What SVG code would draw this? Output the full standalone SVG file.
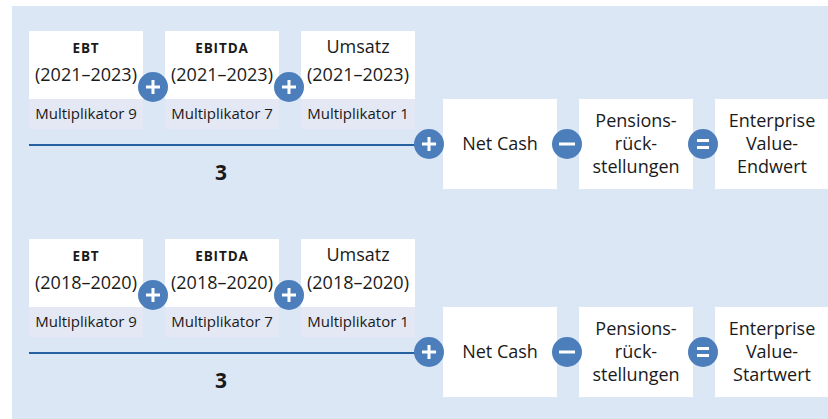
<svg xmlns="http://www.w3.org/2000/svg" width="828" height="419" viewBox="0 0 828 419">
<style>
.bg{fill:#dce7f5}
.box{fill:#ffffff}
.band{fill:#e4e8f4}
.t{font-family:"Open Sans","Noto Sans",sans-serif;fill:#1a1a1a;text-anchor:middle}
.big{font-size:18px}
.sc{font-size:13.5px;font-weight:700;letter-spacing:0.9px}
.mul{font-size:15px}
.num{font-size:21px;font-weight:700}
.op{fill:#4b7ebb}
.sym{stroke:#ffffff;stroke-width:3;stroke-linecap:butt;fill:none}
.link{stroke:#2560a0;stroke-width:2;fill:none}
</style>
<defs>
<g id="plus"><circle class="op" r="15"/><path class="sym" d="M-7,0H7M0,-7V7"/></g>
<g id="minus"><circle class="op" r="15"/><path class="sym" d="M-8,0H8"/></g>
<g id="equals"><circle class="op" r="15"/><path class="sym" d="M-6,-3.5H6M-6,3.5H6"/></g>
</defs>
<rect class="bg" x="12" y="6" width="816" height="413"/>

<g id="connectors">
<line class="link" x1="29" y1="145" x2="416" y2="145"/>
<line class="link" x1="29" y1="353" x2="416" y2="353"/>
</g>

<!-- Top row -->
<g id="ebt-2021">
<rect class="box" x="29" y="31" width="114" height="68"/>
<rect class="band" x="29" y="99" width="114" height="30"/>
<text class="t sc" x="86" y="53">EBT</text>
<text class="t big" x="86" y="81">(2021–2023)</text>
<text class="t mul" x="86" y="119">Multiplikator 9</text>
</g>
<g id="ebitda-2021">
<rect class="box" x="165" y="31" width="114" height="68"/>
<rect class="band" x="165" y="99" width="114" height="30"/>
<text class="t sc" x="222" y="53">EBITDA</text>
<text class="t big" x="222" y="81">(2021–2023)</text>
<text class="t mul" x="222" y="119">Multiplikator 7</text>
</g>
<g id="umsatz-2021">
<rect class="box" x="301" y="31" width="114" height="68"/>
<rect class="band" x="301" y="99" width="114" height="30"/>
<text class="t big" x="358" y="53">Umsatz</text>
<text class="t big" x="358" y="81">(2021–2023)</text>
<text class="t mul" x="358" y="119">Multiplikator 1</text>
</g>
<g id="divisor-top"><text class="t num" x="221" y="180">3</text></g>
<g id="netcash-top">
<rect class="box" x="443" y="99" width="114" height="90"/>
<text class="t big" x="500" y="150">Net Cash</text>
</g>
<g id="pension-top">
<rect class="box" x="579" y="99" width="114" height="90"/>
<text class="t big" x="636" y="127">Pensions-</text>
<text class="t big" x="636" y="150">rück-</text>
<text class="t big" x="636" y="173">stellungen</text>
</g>
<g id="ev-end">
<rect class="box" x="715" y="99" width="114" height="90"/>
<text class="t big" x="772" y="127">Enterprise</text>
<text class="t big" x="772" y="150">Value-</text>
<text class="t big" x="772" y="173">Endwert</text>
</g>
<g id="ops-top">
<use href="#plus" x="153" y="87"/>
<use href="#plus" x="289" y="87"/>
<use href="#plus" x="429" y="144"/>
<use href="#minus" x="567" y="144"/>
<use href="#equals" x="703" y="144"/>
</g>

<!-- Bottom row -->
<g id="ebt-2018">
<rect class="box" x="29" y="239" width="114" height="68"/>
<rect class="band" x="29" y="307" width="114" height="30"/>
<text class="t sc" x="86" y="261">EBT</text>
<text class="t big" x="86" y="289">(2018–2020)</text>
<text class="t mul" x="86" y="327">Multiplikator 9</text>
</g>
<g id="ebitda-2018">
<rect class="box" x="165" y="239" width="114" height="68"/>
<rect class="band" x="165" y="307" width="114" height="30"/>
<text class="t sc" x="222" y="261">EBITDA</text>
<text class="t big" x="222" y="289">(2018–2020)</text>
<text class="t mul" x="222" y="327">Multiplikator 7</text>
</g>
<g id="umsatz-2018">
<rect class="box" x="301" y="239" width="114" height="68"/>
<rect class="band" x="301" y="307" width="114" height="30"/>
<text class="t big" x="358" y="261">Umsatz</text>
<text class="t big" x="358" y="289">(2018–2020)</text>
<text class="t mul" x="358" y="327">Multiplikator 1</text>
</g>
<g id="divisor-bottom"><text class="t num" x="221" y="388">3</text></g>
<g id="netcash-bottom">
<rect class="box" x="443" y="307" width="114" height="90"/>
<text class="t big" x="500" y="358">Net Cash</text>
</g>
<g id="pension-bottom">
<rect class="box" x="579" y="307" width="114" height="90"/>
<text class="t big" x="636" y="335">Pensions-</text>
<text class="t big" x="636" y="358">rück-</text>
<text class="t big" x="636" y="381">stellungen</text>
</g>
<g id="ev-start">
<rect class="box" x="715" y="307" width="114" height="90"/>
<text class="t big" x="772" y="335">Enterprise</text>
<text class="t big" x="772" y="358">Value-</text>
<text class="t big" x="772" y="381">Startwert</text>
</g>
<g id="ops-bottom">
<use href="#plus" x="153" y="295"/>
<use href="#plus" x="289" y="295"/>
<use href="#plus" x="429" y="352"/>
<use href="#minus" x="567" y="352"/>
<use href="#equals" x="703" y="352"/>
</g>
</svg>
